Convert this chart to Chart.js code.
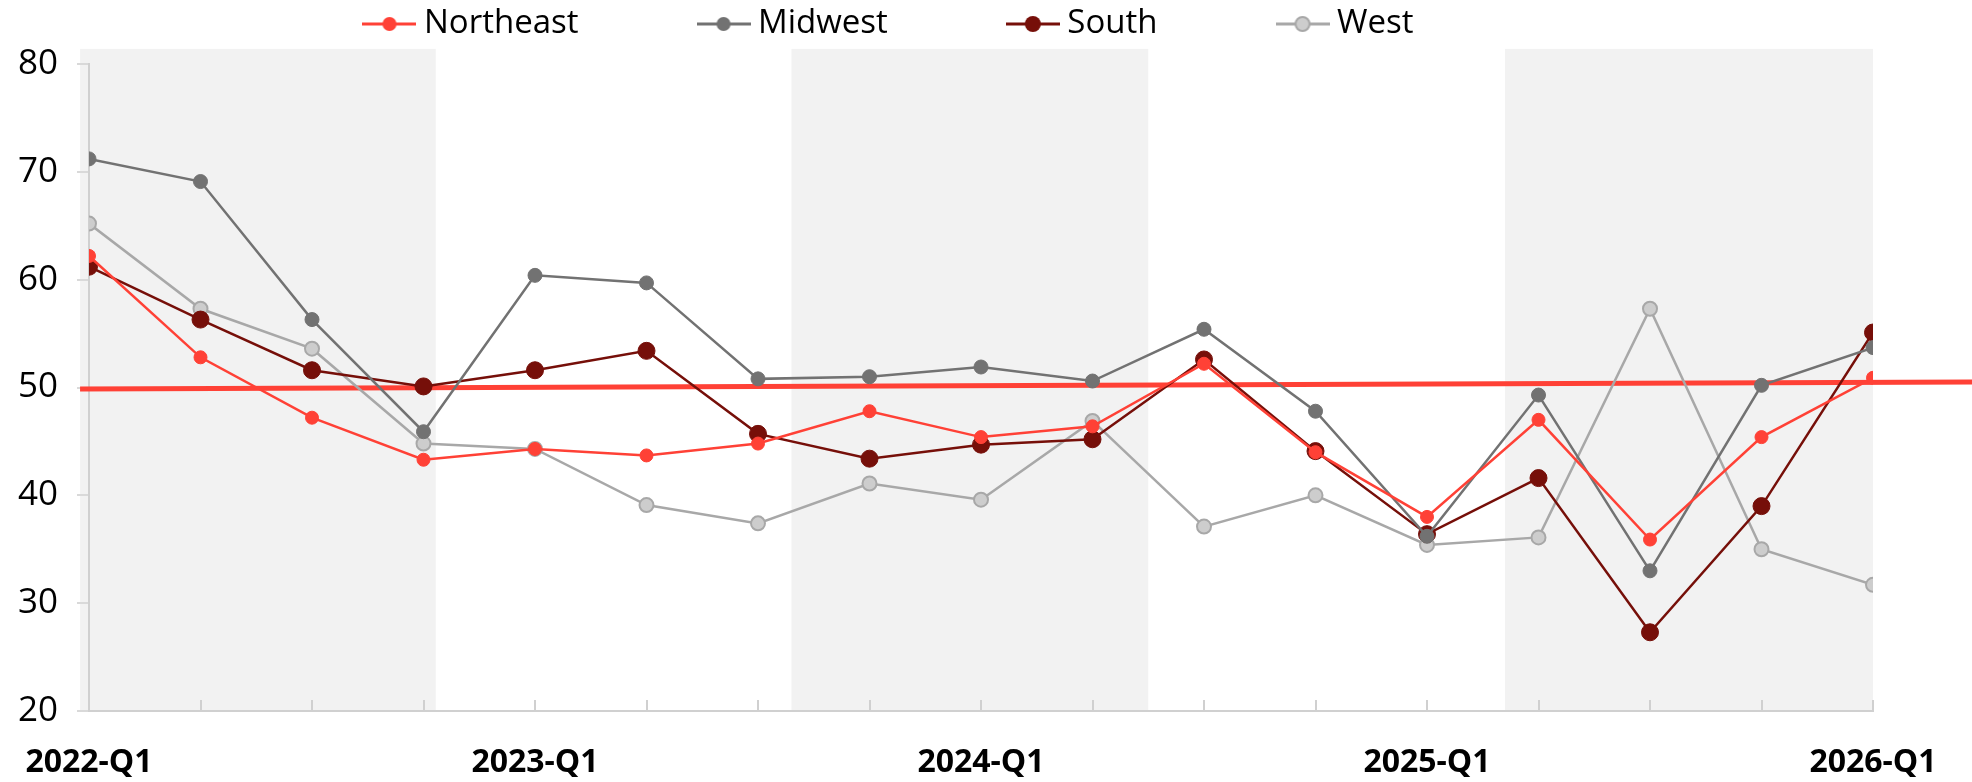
<!DOCTYPE html>
<html lang="en">
<head>
  <meta charset="UTF-8">
  <title>Regional index by quarter</title>
  <script src="https://cdn.jsdelivr.net/npm/chart.js"></script>
  <style>
    body { margin: 0; background: #fff; }
    .chart-box { position: relative; width: 1972px; height: 782px; }
  </style>
</head>
<body>
  <div class="chart-box">
    <canvas id="regionChart"></canvas>
  </div>

  <script>
    // Quarters on the x axis, only the Q1 labels are printed
    const quarters = [
      '2022-Q1', '2022-Q2', '2022-Q3', '2022-Q4',
      '2023-Q1', '2023-Q2', '2023-Q3', '2023-Q4',
      '2024-Q1', '2024-Q2', '2024-Q3', '2024-Q4',
      '2025-Q1', '2025-Q2', '2025-Q3', '2025-Q4',
      '2026-Q1'
    ];
    const xTickLabels = ['2022-Q1', '2023-Q1', '2024-Q1', '2025-Q1', '2026-Q1'];

    // Series values
    const northeast = [62.2, 52.8, 47.2, 43.3, 44.3, 43.7, 44.8, 47.8, 45.4, 46.4, 52.2, 44.0, 38.0, 47.0, 35.9, 45.4, 50.9];
    const midwest   = [71.2, 69.1, 56.3, 45.9, 60.4, 59.7, 50.8, 51.0, 51.9, 50.6, 55.4, 47.8, 36.2, 49.3, 33.0, 50.2, 53.7];
    const south     = [61.2, 56.3, 51.6, 50.1, 51.6, 53.4, 45.7, 43.4, 44.7, 45.2, 52.6, 44.1, 36.4, 41.6, 27.3, 39.0, 55.1];
    const west      = [65.2, 57.3, 53.6, 44.8, 44.3, 39.1, 37.4, 41.1, 39.6, 46.9, 37.1, 40.0, 35.4, 36.1, 57.3, 35.0, 31.7];

    // Red reference line (x in quarter index units)
    const trendX = [-0.08, 16.9];
    const trendY = [49.85, 50.5];

    // Grey background bands (quarter index units)
    const bandFrom = [-0.08, 6.3, 12.7];
    const bandTo   = [3.11, 9.5, 16.0];
    const bandTop  = 81.4;

    // Y axis
    const yMin = 20, yMax = 80, yStep = 10;

    const FONT = 'Open Sans';
    const legendFontSize = 33;

    // legend icon: short line with a dot in the middle
    function legendIcon(lineColor, fill, border, r) {
      const c = document.createElement('canvas');
      c.width = 54;
      c.height = 22;
      const g = c.getContext('2d');
      g.strokeStyle = lineColor;
      g.lineWidth = 3;
      g.beginPath();
      g.moveTo(0, 11);
      g.lineTo(54, 11);
      g.stroke();
      g.beginPath();
      g.arc(27, 11, r, 0, Math.PI * 2);
      g.fillStyle = fill;
      g.fill();
      if (border) {
        g.lineWidth = 2;
        g.strokeStyle = border;
        g.stroke();
      }
      return c;
    }

    const series = [
      { label: 'Northeast', values: northeast, color: '#ff4136', fill: '#ff4136', border: '#ff4136', r: 6.5, bw: 1 },
      { label: 'Midwest',   values: midwest,   color: '#727272', fill: '#727272', border: '#727272', r: 7,   bw: 1 },
      { label: 'South',     values: south,     color: '#760f09', fill: '#760f09', border: '#760f09', r: 8.5, bw: 1 },
      { label: 'West',      values: west,      color: '#a8a8a8', fill: '#cdcdcd', border: '#a8a8a8', r: 7,   bw: 2 }
    ];

    const legendIcons = series.map(s =>
      legendIcon(s.color, s.fill, s.bw > 1 ? s.border : null, s.r > 8 ? 8 : 7));

    const datasets = series.map(s => ({
      label: s.label,
      data: s.values.map((v, i) => ({ x: i, y: v })),
      borderColor: s.color,
      borderWidth: 2.5,
      pointRadius: s.r,
      pointBackgroundColor: s.fill,
      pointBorderColor: s.border,
      pointBorderWidth: s.bw,
      order: 0
    }));

    datasets.push({
      label: 'Reference',
      data: trendX.map((x, i) => ({ x: x, y: trendY[i] })),
      borderColor: '#ff4136',
      borderWidth: 5,
      pointRadius: 0,
      clip: false,
      order: 1
    });

    // grey bands, drawn before the axes
    const bandPlugin = {
      id: 'bands',
      beforeDraw(chart) {
        const { ctx, chartArea, scales: { x, y } } = chart;
        ctx.save();
        ctx.fillStyle = '#f2f2f2';
        const top = y.getPixelForValue(bandTop);
        bandFrom.forEach((from, i) => {
          const x1 = x.getPixelForValue(from);
          const x2 = x.getPixelForValue(bandTo[i]);
          ctx.fillRect(x1, top, x2 - x1, chartArea.bottom - top);
        });
        ctx.restore();
      }
    };

    // move the legend row up and slightly left (large label padding pushes it down)
    const legendShiftX = -44;
    const legendTextY = 24;
    const legendPlacement = {
      id: 'legendPlacement',
      afterLayout(chart) {
        const lg = chart.legend;
        const pad = lg.options.labels.padding;
        lg.left += legendShiftX;
        lg.right += legendShiftX;
        lg.top = legendTextY - pad - legendFontSize / 2;
        lg.bottom = legendTextY + legendFontSize;   // legend clips to its own box
      }
    };

    const ctx = document.getElementById('regionChart').getContext('2d');
    const chart = new Chart(ctx, {
      type: 'line',
      data: { datasets: datasets },
      options: {
        responsive: true,
        maintainAspectRatio: false,
        animation: false,
        layout: { padding: { left: 0, right: 99, top: 0, bottom: 0 } },
        scales: {
          x: {
            type: 'linear',
            min: 0,
            max: quarters.length - 1,
            afterFit(scale) { scale.height = 71; },
            border: { display: true, color: '#d0d0d0', width: 2 },
            grid: { drawOnChartArea: false, drawTicks: true, tickLength: -11, color: '#d0d0d0', lineWidth: 2 },
            ticks: {
              stepSize: 1,
              autoSkip: false,
              maxRotation: 0,
              padding: 20,
              color: '#000',
              font: { family: FONT, size: 32, weight: 'bold', lineHeight: 2.7 },
              callback: v => xTickLabels.includes(quarters[v]) ? quarters[v] : ''
            }
          },
          y: {
            min: yMin,
            max: yMax,
            afterFit(scale) { scale.width = 89; },
            border: { display: true, color: '#d0d0d0', width: 2 },
            grid: { drawOnChartArea: false, drawTicks: true, tickLength: 12, color: '#d9d9d9', lineWidth: 2 },
            ticks: {
              stepSize: yStep,
              padding: 19,
              color: '#000',
              font: { family: FONT, size: 35 }
            }
          }
        },
        plugins: {
          tooltip: { enabled: false },
          legend: {
            position: 'top',
            maxHeight: 64,
            labels: {
              usePointStyle: true,
              pointStyleWidth: 36,
              padding: 127,
              color: '#000',
              font: { family: FONT, size: legendFontSize },
              filter: item => item.datasetIndex < series.length,
              generateLabels(chart) {
                const items = Chart.defaults.plugins.legend.labels.generateLabels(chart);
                return items.map(it => Object.assign({}, it, { pointStyle: legendIcons[it.datasetIndex] || it.pointStyle }));
              }
            }
          }
        }
      },
      plugins: [bandPlugin, legendPlacement]
    });
  </script>
</body>
</html>
